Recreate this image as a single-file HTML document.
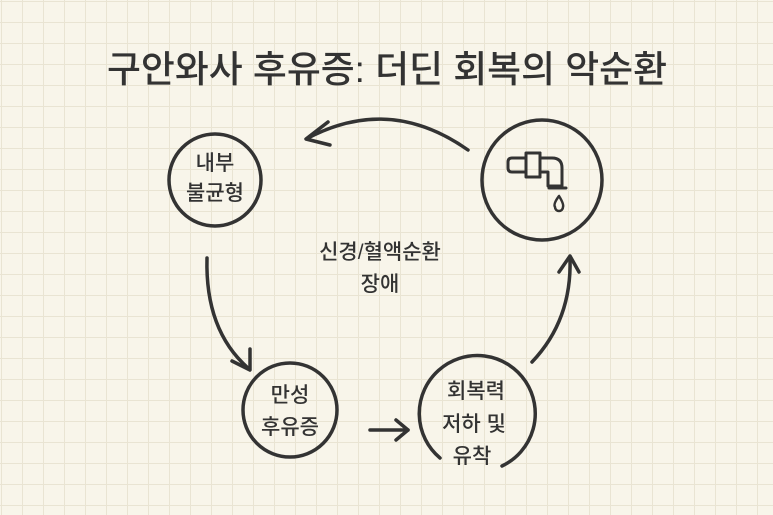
<!DOCTYPE html>
<html><head><meta charset="utf-8"><style>
html,body{margin:0;padding:0}
body{width:773px;height:515px;overflow:hidden;background-color:#f8f5ea;
background-image:linear-gradient(#e9e4d3 1px,transparent 1px),linear-gradient(90deg,#e9e4d3 1px,transparent 1px);
background-size:21px 21px;background-position:1px 1px;}
svg{position:absolute;left:0;top:0}
text{font-family:"Liberation Sans","Noto Sans CJK KR","NanumGothic",sans-serif;fill:#333;text-anchor:middle}
</style></head><body>
<svg width="773" height="515" viewBox="0 0 773 515">
<g fill="none" stroke="#333" stroke-width="3.5" stroke-linecap="round" stroke-linejoin="round">
<circle cx="215" cy="180" r="46"/>
<circle cx="542" cy="180" r="60"/>
<circle cx="290" cy="410" r="47"/>
<path d="M440 458 A58 58 0 1 1 502 466"/>
<path d="M468 150 Q390 95 308 138"/>
<path d="M328 122 L306 139 L330 145"/>
<path d="M207 258 Q205 330 248 368"/>
<path d="M232 361 L250 370 L250 349"/>
<path d="M370 430 L408 430"/>
<path d="M396 420 L408 430 L396 440"/>
<path d="M532 362 Q572 320 570 258"/>
<path d="M559 272 L570 256 L579 272"/>
<path d="M512 158 h14 v-5 h14 v5 h12 q10 0 10 10 v18 h-14 v-14 h-8 v5 h-14 v-5 h-14 q-4 0 -4 -4 v-6 q0 -4 4 -4z" stroke-width="3"/>
<path d="M540 153 v24 M526 158 v14" stroke-width="3"/>
<path d="M549 188 h17" stroke-width="3"/>
<path d="M559 196 q-6 8 -4 11 a4 4 0 0 0 8 0 q1 -3 -4 -11z" stroke-width="2.5"/>
</g>
<text x="387" y="82" font-size="37" font-weight="500" textLength="560" lengthAdjust="spacingAndGlyphs">구안와사 후유증: 더딘 회복의 악순환</text>
<g font-size="21" font-weight="500">
<text x="215" y="170">내부</text>
<text x="215" y="200">불균형</text>
<text x="380" y="259">신경/혈액순환</text>
<text x="380" y="291">장애</text>
<text x="290" y="402">만성</text>
<text x="290" y="434">후유증</text>
<text x="476" y="398">회복력</text>
<text x="474" y="431">저하 및</text>
<text x="472" y="463">유착</text>
</g>
</svg>
</body></html>
